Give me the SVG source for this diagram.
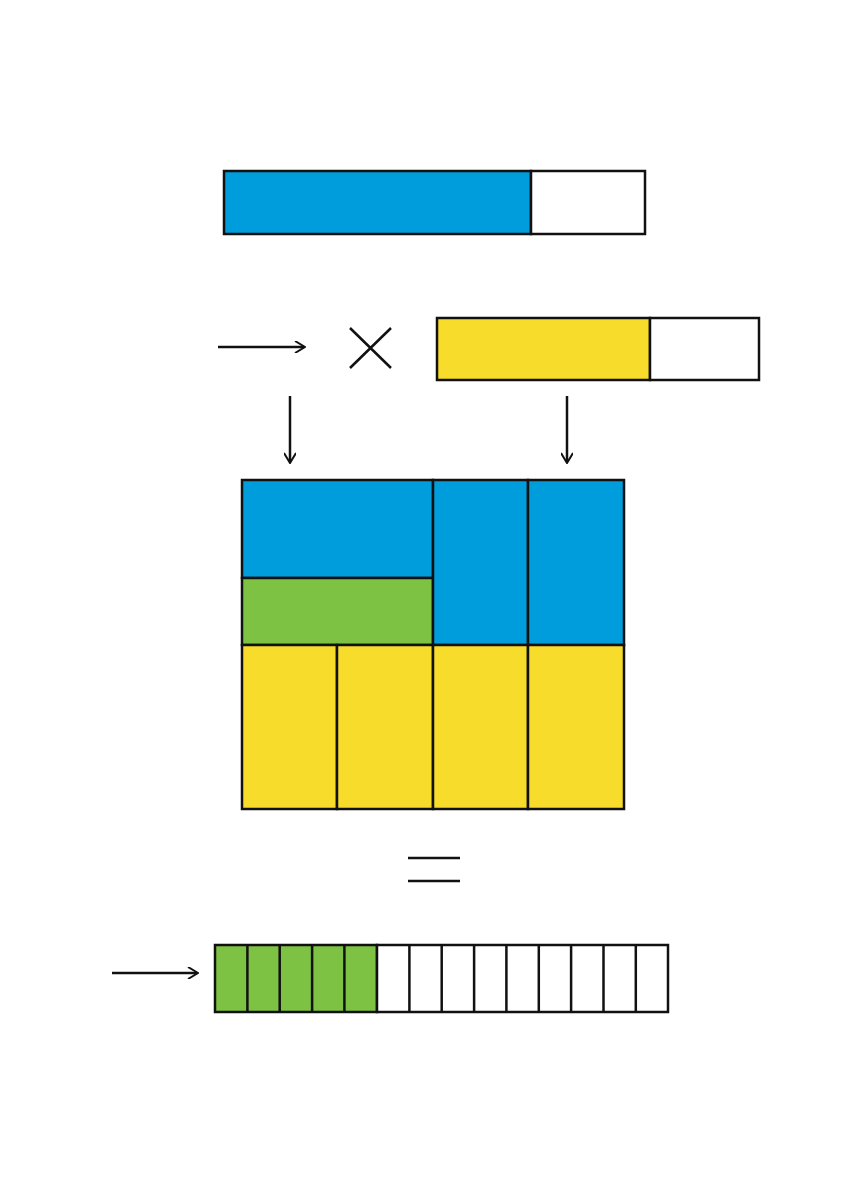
<svg xmlns="http://www.w3.org/2000/svg" width="864" height="1184" viewBox="0 0 864 1184">
<style>
.s{stroke:#111;stroke-width:2.5}
.b{fill:#009ddc}.y{fill:#f8dc2c}.g{fill:#7dc243}.w{fill:#fff}
.l{stroke:#111;stroke-width:2.5;fill:none}
</style>
<defs><marker id="a" markerWidth="12" markerHeight="12" refX="10" refY="6" orient="auto" markerUnits="userSpaceOnUse"><path d="M1,0 L11,6 L1,12" fill="none" stroke="#111" stroke-width="2"/></marker></defs>
<rect width="864" height="1184" fill="#fff"/>
<g id="bar1">
<rect class="s b" x="224" y="171" width="307" height="63"/>
<rect class="s w" x="531" y="171" width="114" height="63"/>
</g>
<g id="times"><path class="l" d="M350,328 L391,368 M391,328 L350,368"/></g>
<g id="bar2">
<rect class="s y" x="437" y="318" width="213" height="62"/>
<rect class="s w" x="650" y="318" width="109" height="62"/>
</g>
<g id="grid">
<rect class="s b" x="242" y="480" width="191" height="98"/>
<rect class="s g" x="242" y="578" width="191" height="67"/>
<rect class="s b" x="433" y="480" width="95" height="165"/>
<rect class="s b" x="528" y="480" width="96" height="165"/>
<rect class="s y" x="242" y="645" width="95" height="164"/>
<rect class="s y" x="337" y="645" width="96" height="164"/>
<rect class="s y" x="433" y="645" width="95" height="164"/>
<rect class="s y" x="528" y="645" width="96" height="164"/>
</g>
<g id="equals"><path class="l" d="M408,858 H460 M408,881 H460"/></g>
<g id="result">
<rect class="s g" x="215" y="945" width="162" height="67"/>
<rect class="s w" x="377" y="945" width="291" height="67"/>
<path class="l" d="M247.4,945V1012M279.7,945V1012M312.1,945V1012M344.4,945V1012M409.4,945V1012M441.7,945V1012M474.1,945V1012M506.4,945V1012M538.8,945V1012M571.1,945V1012M603.5,945V1012M635.8,945V1012"/>
</g>
<g id="connectors">
<path class="l" d="M218,347 H304" marker-end="url(#a)"/>
<path class="l" d="M290,396 V462" marker-end="url(#a)"/>
<path class="l" d="M567,396 V462" marker-end="url(#a)"/>
<path class="l" d="M112,973 H197" marker-end="url(#a)"/>
</g>
</svg>
